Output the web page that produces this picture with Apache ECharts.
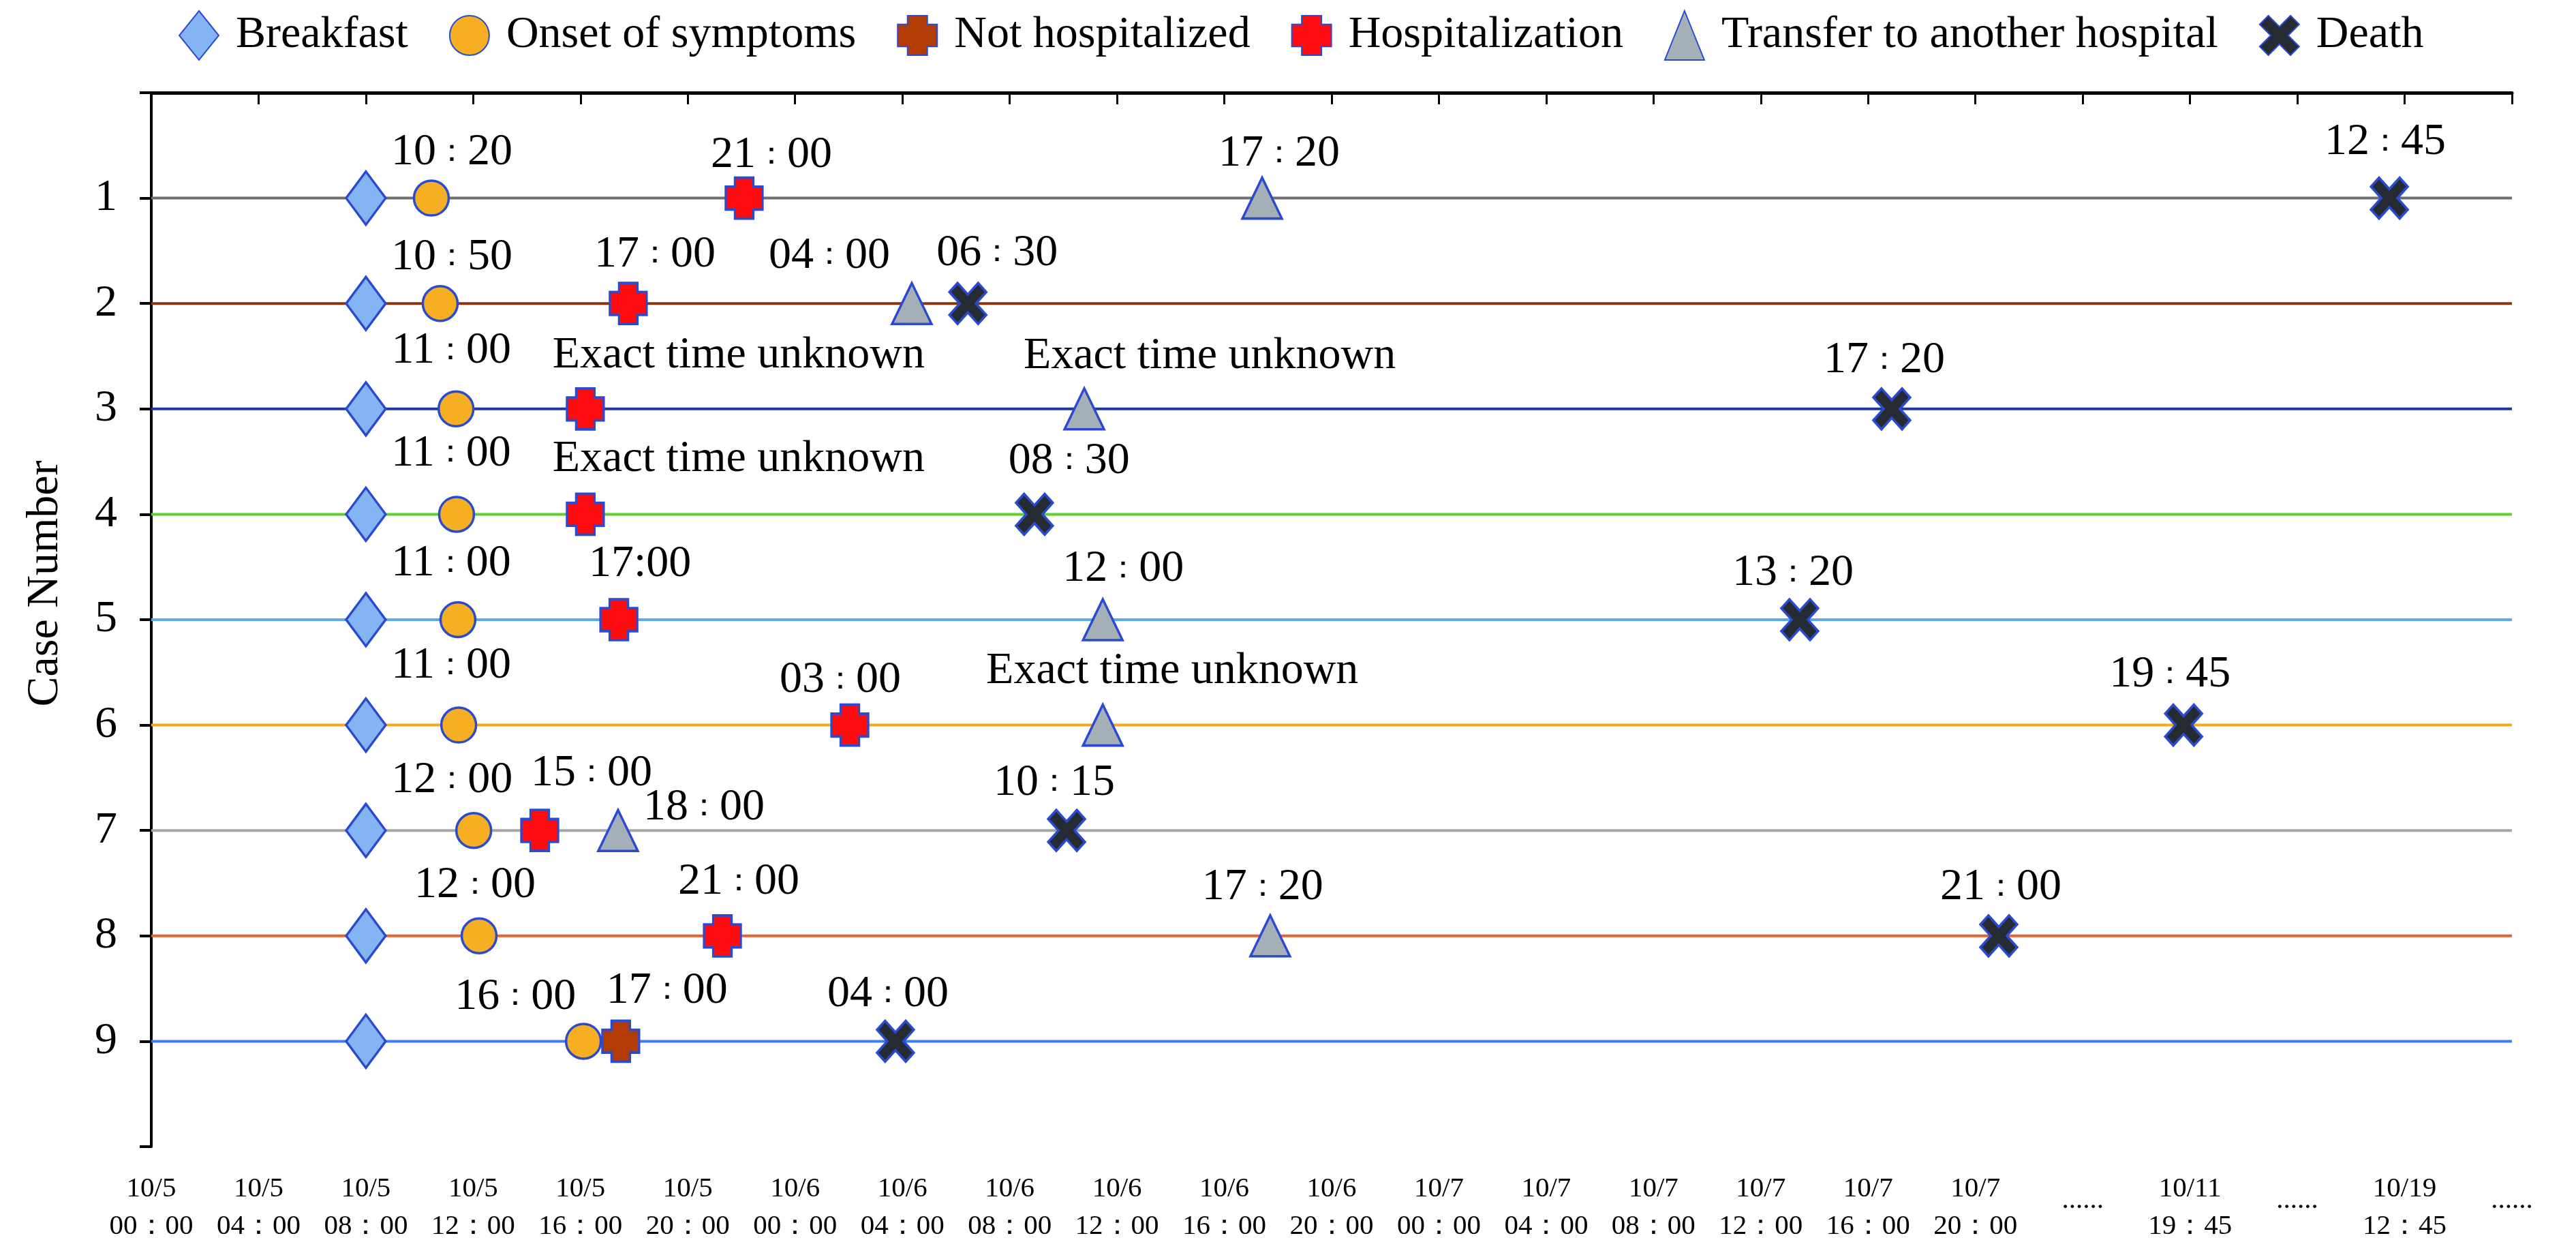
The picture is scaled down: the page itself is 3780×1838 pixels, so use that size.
<!DOCTYPE html>
<html>
<head>
<meta charset="utf-8">
<script src="https://cdn.jsdelivr.net/npm/echarts@6/dist/echarts.min.js"></script>
<style>
  html, body { margin: 0; padding: 0; background: #fff; }
  #chart { width: 3780px; height: 1838px; }
</style>
</head>
<body>
<div id="chart"></div>
<script>
// ---------------- DATA ----------------
// x values: position on the time axis in hours from 10/5 00:00 (4 h per tick;
// after 10/7 20:00 the axis is compressed, see tick labels)
const caseNumbers = [1, 2, 3, 4, 5, 6, 7, 8, 9];

const xTickLabels = [
  '10/5\n00：00', '10/5\n04：00', '10/5\n08：00', '10/5\n12：00', '10/5\n16：00', '10/5\n20：00',
  '10/6\n00：00', '10/6\n04：00', '10/6\n08：00', '10/6\n12：00', '10/6\n16：00', '10/6\n20：00',
  '10/7\n00：00', '10/7\n04：00', '10/7\n08：00', '10/7\n12：00', '10/7\n16：00', '10/7\n20：00',
  '......', '10/11\n19：45', '......', '10/19\n12：45', '......'
];

const legendNames = ['Breakfast', 'Onset of symptoms', 'Not hospitalized', 'Hospitalization',
  'Transfer to another hospital', 'Death'];

const breakfastCases = [1, 2, 3, 4, 5, 6, 7, 8, 9];
const breakfastX = [8, 8, 8, 8, 8, 8, 8, 8, 8];

const onsetCases = [1, 2, 3, 4, 5, 6, 7, 8, 9];
const onsetX = [10.44, 10.77, 11.36, 11.38, 11.43, 11.46, 12.02, 12.22, 16.11];
const onsetLabels = ['10：20', '10：50', '11：00', '11：00', '11：00', '11：00', '12：00', '12：00', '16：00'];

const notHospCases = [9];
const notHospX = [17.5];
const notHospLabels = ['17：00'];

const hospCases = [1, 2, 3, 4, 5, 6, 7, 8];
const hospX = [22.10, 17.78, 16.18, 16.18, 17.43, 26.04, 14.48, 21.29];
const hospLabels = ['21：00', '17：00', 'Exact time unknown', 'Exact time unknown', '17:00', '03：00', '15：00', '21：00'];

const transferCases = [1, 2, 3, 5, 6, 7, 8];
const transferX = [41.41, 28.35, 34.78, 35.47, 35.47, 17.40, 41.71];
const transferLabels = ['17：20', '04：00', 'Exact time unknown', '12：00', 'Exact time unknown', '18：00', '17：20'];

const deathCases = [1, 2, 3, 4, 5, 6, 7, 8, 9];
const deathX = [83.43, 30.44, 64.88, 32.92, 61.45, 75.76, 34.12, 68.87, 27.74];
const deathLabels = ['12：45', '06：30', '17：20', '08：30', '13：20', '19：45', '10：15', '21：00', '04：00'];

// ---------------- STYLE / LAYOUT ----------------
const FONT = "'Liberation Serif', 'Times New Roman', serif";
const BORDER = '#2A4BD0';
const caseLineColors = ['#6F6F6F', '#8B3510', '#1F3A9E', '#5FD12B', '#5AAAF0', '#F5A71E', '#A6A6A6', '#F0602E', '#3F7CF0'];

// label offsets (px) relative to the marker centre
const onsetLabelOffsets = [[30, -67], [17, -68], [-7, -85], [-8, -89], [-10, -82], [-11, -87], [-32, -74], [-6, -74], [-100, -65]];
const notHospLabelOffsets = [[68, -74]];
const hospLabelOffsets = [[40, -63], [39, -72], [225, -78], [225, -81], [31, -81], [-14, -66], [76, -84], [24, -79]];
const transferLabelOffsets = [[25, -65], [-121, -70], [184, -77], [30, -74], [102, -79], [126, -34], [-11, -71]];
const deathLabelOffsets = [[-6, -82], [43, -74], [-11, -71], [51, -78], [-10, -68], [-20, -74], [-18, -70], [3, -71], [-11, -69]];

const CROSS = 'path://M2.5,0H7.5V2.2H10V7.8H7.5V10H2.5V7.8H0V2.2H2.5Z';
const XMARK = 'path://M0,2.2L2.2,0L5,2.8L7.8,0L10,2.2L7.2,5L10,7.8L7.8,10L5,7.2L2.2,10L0,7.8L2.8,5Z';

function scatterSeries(name, cases, xs, labels, offsets, symbol, size, fill) {
  return {
    type: 'scatter',
    name: name,
    symbol: symbol,
    symbolSize: size,
    symbolKeepAspect: false,
    z: 5,
    itemStyle: { color: fill, borderColor: BORDER, borderWidth: 3.5, opacity: 1 },
    label: {
      show: !!labels, position: 'inside',
      formatter: function (p) { return p.name.replace('：', '{c|：}'); },
      fontSize: 66, color: '#000', fontFamily: FONT,
      rich: { c: { fontSize: 46, color: '#000' } }
    },
    emphasis: { disabled: true },
    data: cases.map(function (c, i) {
      const item = { value: [xs[i], c], name: labels ? labels[i] : '' };
      if (offsets) item.label = { offset: offsets[i] };
      return item;
    })
  };
}

const lineSeries = caseNumbers.map(function (c, i) {
  return {
    type: 'line',
    data: [[0, c], [88, c]],
    symbol: 'none',
    silent: true,
    z: 2,
    lineStyle: { color: caseLineColors[i], width: 4 },
    emphasis: { disabled: true }
  };
});

const option = {
  animation: false,
  backgroundColor: '#ffffff',
  textStyle: { fontFamily: FONT },
  legend: {
    left: 257, top: 10,
    itemWidth: 58, itemHeight: 72, itemGap: 60,
    textStyle: { fontSize: 66, color: '#000', fontFamily: FONT, padding: [0, 0, 0, 20] },
    data: legendNames
  },
  grid: { left: 222, right: 94, top: 136, bottom: 156 },
  xAxis: {
    type: 'value', min: 0, max: 88, interval: 4,
    axisLine: { show: true, lineStyle: { color: '#000', width: 5 } },
    axisTick: { show: true, length: 17, lineStyle: { color: '#000', width: 3 } },
    splitLine: { show: false },
    axisLabel: {
      formatter: function (v) {
        const t = xTickLabels[Math.round(v / 4)] || '';
        return t.indexOf('\n') < 0 && t ? '{d|' + t + '}' : t;
      },
      fontSize: 41, lineHeight: 55, margin: 35, color: '#000', fontFamily: FONT,
      rich: { d: { fontSize: 41, lineHeight: 88, color: '#000' } }
    }
  },
  yAxis: {
    type: 'value', inverse: true, min: 0, max: 10, interval: 1,
    name: 'Case Number', nameLocation: 'middle', nameRotate: 90, nameGap: 122,
    nameTextStyle: { fontSize: 66, color: '#000', fontFamily: FONT, padding: [0, 0, 0, 106] },
    axisLine: { show: true, lineStyle: { color: '#000', width: 4 } },
    axisTick: { show: true, length: 17, lineStyle: { color: '#000', width: 4 } },
    splitLine: { show: false },
    axisLabel: {
      formatter: function (v) { return (v >= 1 && v <= 9) ? String(v) : ''; },
      fontSize: 66, margin: 50, color: '#000', fontFamily: FONT
    }
  },
  series: lineSeries.concat([
    scatterSeries('Breakfast', breakfastCases, breakfastX, null, null, 'diamond', [58, 78], '#85B4F5'),
    scatterSeries('Onset of symptoms', onsetCases, onsetX, onsetLabels, onsetLabelOffsets, 'circle', 51, '#F6AE22'),
    scatterSeries('Not hospitalized', notHospCases, notHospX, notHospLabels, notHospLabelOffsets, CROSS, [54, 60], '#B23C04'),
    scatterSeries('Hospitalization', hospCases, hospX, hospLabels, hospLabelOffsets, CROSS, [54, 60], '#FE0C10'),
    scatterSeries('Transfer to another hospital', transferCases, transferX, transferLabels, transferLabelOffsets, 'triangle', [58, 60], '#A4AFB7'),
    scatterSeries('Death', deathCases, deathX, deathLabels, deathLabelOffsets, XMARK, [54, 60], '#262B33')
  ])
};

const chart = echarts.init(document.getElementById('chart'), null, { renderer: 'canvas' });
chart.setOption(option);
</script>
</body>
</html>
